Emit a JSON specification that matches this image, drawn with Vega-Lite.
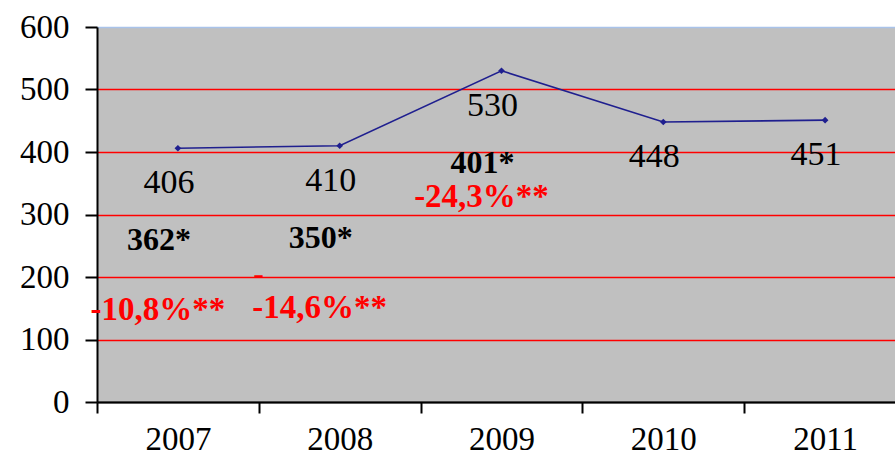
{
  "$schema": "https://vega.github.io/schema/vega-lite/v6.json",
  "width": 798,
  "height": 375,
  "autosize": {"type": "none"},
  "padding": {"left": 97, "top": 27, "right": 0, "bottom": 56},
  "background": "white",
  "config": {"view": {"fill": "#c0c0c0", "stroke": null}, "font": "Liberation Serif"},
  "data": {
    "values": [
      {"year": "2007", "value": 406, "alt": "362*", "change": "\n-10,8%**"},
      {"year": "2008", "value": 410, "alt": "350*", "change": "\n-14,6%**", "stray": "-"},
      {"year": "2009", "value": 530, "alt": "401*", "change": "-24,3%**"},
      {"year": "2010", "value": 448},
      {"year": "2011", "value": 451}
    ]
  },
  "encoding": {
    "x": {
      "field": "year",
      "type": "ordinal",
      "scale": {"type": "band", "range": [0, 809], "paddingInner": 0, "paddingOuter": 0},
      "axis": {
        "title": null,
        "labelAngle": 0,
        "labelFontSize": 33,
        "labelColor": "black",
        "labelFont": "Liberation Serif",
        "tickBand": "extent",
        "tickColor": "black",
        "tickSize": 11,
        "tickWidth": 2,
        "domainColor": "black",
        "domainWidth": 2,
        "labelPadding": 10,
        "grid": false
      }
    },
    "y": {
      "field": "value",
      "type": "quantitative",
      "scale": {"domain": [0, 600], "nice": false, "zero": true},
      "axis": {
        "values": [0, 100, 200, 300, 400, 500, 600],
        "title": null,
        "labelFontSize": 33,
        "labelColor": "black",
        "labelFont": "Liberation Serif",
        "labelPadding": 16,
        "tickSize": 12,
        "tickColor": "black",
        "tickWidth": 2,
        "domainColor": "black",
        "domainWidth": 2,
        "grid": true,
        "gridColor": {
          "condition": [
            {"test": "datum.value === 600", "value": "#a9c3ea"},
            {"test": "datum.value === 0", "value": "black"}
          ],
          "value": "#ff0000"
        },
        "gridWidth": 1.5
      }
    }
  },
  "layer": [
    {"mark": {"type": "line", "color": "#1f1f8f", "strokeWidth": 1.6}},
    {"mark": {"type": "point", "shape": "diamond", "filled": true, "color": "#1f1f8f", "size": 45, "opacity": 1}},
    {
      "mark": {"type": "text", "fontSize": 34, "color": "black", "dy": 35, "dx": -9, "font": "Liberation Serif"},
      "encoding": {"text": {"field": "value"}}
    },
    {
      "transform": [{"filter": "datum.alt"}],
      "mark": {"type": "text", "fontSize": 32, "fontWeight": "bold", "color": "black", "dy": 92, "dx": -19, "font": "Liberation Serif"},
      "encoding": {"text": {"field": "alt"}}
    },
    {
      "transform": [{"filter": "datum.change"}],
      "mark": {"type": "text", "fontSize": 33, "fontWeight": "bold", "color": "#ff0000", "dy": 110, "dx": -20, "baseline": "top", "lineBreak": "\n", "lineHeight": 36, "font": "Liberation Serif"},
      "encoding": {"text": {"field": "change"}}
    },
    {
      "transform": [{"filter": "datum.stray"}],
      "mark": {"type": "text", "fontSize": 32, "fontWeight": "bold", "color": "#ff0000", "dy": 128, "dx": -81, "font": "Liberation Serif"},
      "encoding": {"text": {"field": "stray"}}
    }
  ]
}
